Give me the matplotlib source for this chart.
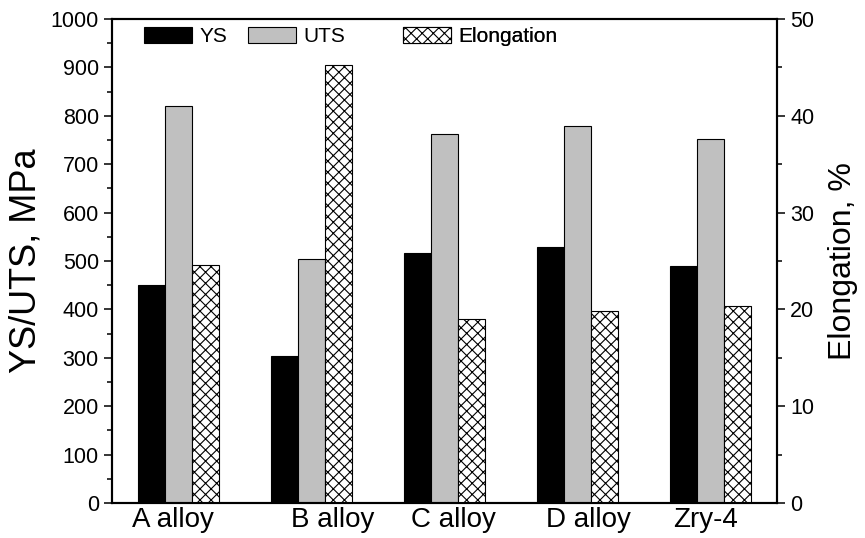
import numpy as np
import matplotlib
matplotlib.use("Agg")
import matplotlib.pyplot as plt
from matplotlib.ticker import MultipleLocator

# Datos
aleaciones = ["A alloy", "B alloy", "C alloy", "D alloy", "Zry-4"]
ys = [450, 303, 517, 529, 490]          # MPa
uts = [820, 504, 762, 778, 753]         # MPa
elongacion = [24.6, 45.25, 19.0, 19.8, 20.4]  # %

# desplazamiento manual de las etiquetas del eje x (como en el original)
desp_etiquetas = [-0.045, 0.157, 0.07, 0.084, -0.04]

plt.rcParams['font.family'] = ['Liberation Sans', 'DejaVu Sans']
plt.rcParams['hatch.linewidth'] = 0.8

x = np.arange(len(aleaciones))
ancho = 0.2

fig = plt.figure(figsize=(8.65, 5.38), dpi=100)
ax1 = fig.add_axes([112 / 865, 1 - 503 / 538, 665 / 865, 484 / 538])
ax2 = ax1.twinx()

b1 = ax1.bar(x - 0.203, ys, ancho, color='black', edgecolor='black', linewidth=0.8)
b2 = ax1.bar(x, uts, ancho, color='#c0c0c0', edgecolor='black', linewidth=0.8)
b3 = ax2.bar(x + 0.205, elongacion, ancho, color='white', edgecolor='black',
             linewidth=0.8, hatch='xxx')

ax1.set_xlim(-0.5, 4.5)
ax1.set_ylim(0, 1000)
ax2.set_ylim(0, 50)

ax1.yaxis.set_major_locator(MultipleLocator(100))
ax1.yaxis.set_minor_locator(MultipleLocator(50))
ax2.yaxis.set_major_locator(MultipleLocator(10))
ax2.yaxis.set_minor_locator(MultipleLocator(5))

ax1.set_xticks(x + np.array(desp_etiquetas))
ax1.set_xticklabels(aleaciones, fontsize=20)
ax1.tick_params(axis='x', length=0, pad=3)
ax1.tick_params(axis='y', which='major', direction='out', length=6, width=1.1, labelsize=15.5)
ax1.tick_params(axis='y', which='minor', direction='out', length=3.6, width=1.1)
ax2.tick_params(axis='y', which='major', direction='out', length=6, width=1.1, labelsize=15.5)
ax2.tick_params(axis='y', which='minor', direction='out', length=3.6, width=1.1)

for a in (ax1, ax2):
    for s in a.spines.values():
        s.set_linewidth(1.5)

ax1.set_ylabel("YS/UTS, MPa", fontsize=26, labelpad=5)
ax2.set_ylabel("Elongation, %", fontsize=23, labelpad=10)

# Leyenda: tres entradas colocadas por separado, sin marco
entradas = [(b1, "YS", 0.048), (b2, "UTS", 0.2045), (b3, "Elongation", 0.4376)]
for handle, texto, xpos in entradas:
    leg = ax2.legend([handle], [texto], loc='upper left', bbox_to_anchor=(xpos, 0.983),
                     frameon=False, fontsize=15, handlelength=2.3, handleheight=0.78,
                     handletextpad=0.35, borderpad=0, borderaxespad=0)
    ax2.add_artist(leg)

plt.savefig("out.png", dpi=100)
